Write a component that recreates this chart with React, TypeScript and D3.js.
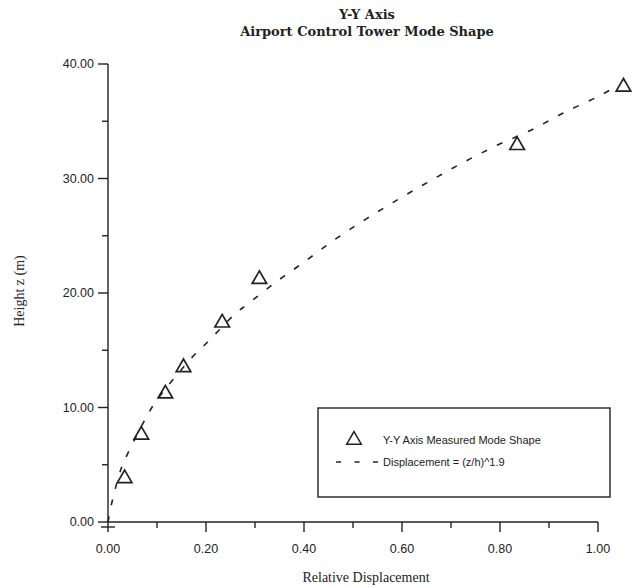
import React from 'react';
import * as d3 from 'd3';

// measured mode shape
const measuredX = [0.034, 0.068, 0.117, 0.154, 0.233, 0.309, 0.835, 1.052];
const measuredZ = [3.8, 7.6, 11.2, 13.5, 17.4, 21.2, 32.9, 38.0];

// dashed fit curve, points traced along the dashes
const fitX = [0, 0.009, 0.028, 0.044, 0.08, 0.099, 0.172, 0.203, 0.26, 0.284, 0.341, 0.4, 0.464, 0.528, 0.593, 0.658, 0.725, 0.794, 0.862, 0.933, 1.002, 1.036];
const fitZ = [0, 1.9, 4.8, 6.3, 9.3, 10.6, 14.4, 15.7, 18.2, 19.0, 20.9, 22.7, 24.7, 26.5, 28.2, 29.8, 31.4, 32.9, 34.2, 35.8, 37.2, 38.0];

const xMajor = [0, 0.2, 0.4, 0.6, 0.8, 1.0];
const xMinor = [0.1, 0.3, 0.5, 0.7, 0.9];
const yMajor = [0, 10, 20, 30, 40];
const yMinor = [5, 15, 25, 35];

const titleLines = ['Y-Y Axis', 'Airport Control Tower Mode Shape'];
const xTitle = 'Relative Displacement';
const yTitle = 'Height z (m)';
const legendItems = ['Y-Y Axis Measured Mode Shape', 'Displacement = (z/h)^1.9'];

const W = 644;
const H = 587;
const INK = '#222';
const SANS = '"Liberation Sans", Arial, sans-serif';
const SERIF_B = '"DejaVu Serif", serif';
const SERIF = '"Liberation Serif", "Times New Roman", serif';

export default function App() {
  const x = d3.scaleLinear().domain([0, 1]).range([108, 598]);
  const y = d3.scaleLinear().domain([0, 40]).range([522, 64]);
  const fmt = d3.format('.2f');

  const line = d3.line<number>()
    .x((_, i) => x(fitX[i]))
    .y((_, i) => y(fitZ[i]))
    .curve(d3.curveCatmullRom);

  const tri = d3.symbol().type(d3.symbolTriangle).size(92)();

  const majorLen = 10;
  const minorLen = 6;
  const x0 = x(0);
  const y0 = y(0);
  const cx = (x(0) + x(1)) / 2;

  // legend box
  const lg = { x: 318, y: 408, w: 292, h: 89 };

  return (
    <svg width={W} height={H} style={{ position: 'absolute', left: 0, top: 0, background: '#fff' }}>
      {/* titles */}
      {titleLines.map((t, i) => (
        <text key={t} x={cx + 14} y={19 + i * 17} textAnchor="middle"
          fontFamily={SERIF_B} fontWeight="bold" fontSize={13} fill={INK}>{t}</text>
      ))}

      {/* axes */}
      <g stroke={INK} strokeWidth={1.4} fill="none">
        <line x1={x0} y1={y(40)} x2={x0} y2={y0} />
        <line x1={x0} y1={y0} x2={x(1)} y2={y0} />
        {yMajor.map(v => <line key={'ym' + v} x1={x0 - majorLen} x2={x0} y1={y(v)} y2={y(v)} />)}
        {yMinor.map(v => <line key={'yn' + v} x1={x0 - minorLen} x2={x0} y1={y(v)} y2={y(v)} />)}
        {xMajor.map(v => <line key={'xm' + v} x1={x(v)} x2={x(v)} y1={y0} y2={y0 + majorLen} />)}
        {xMinor.map(v => <line key={'xn' + v} x1={x(v)} x2={x(v)} y1={y0} y2={y0 + minorLen} />)}
        <line x1={x0 - 7} x2={x0 + 7} y1={y0 + 5} y2={y0 + 5} />
      </g>

      {/* tick labels */}
      {yMajor.map(v => (
        <text key={'yl' + v} x={x0 - 14} y={y(v)} dy="0.35em" textAnchor="end"
          fontFamily={SANS} fontSize={12.5} fill={INK}>{fmt(v)}</text>
      ))}
      {xMajor.map(v => (
        <text key={'xl' + v} x={x(v)} y={y0 + 31} textAnchor="middle"
          fontFamily={SANS} fontSize={12.5} fill={INK}>{fmt(v)}</text>
      ))}

      {/* axis titles */}
      <text x={366} y={582} textAnchor="middle" fontFamily={SERIF} fontSize={14} fill={INK}>{xTitle}</text>
      <text transform={`translate(24,${291}) rotate(-90)`} textAnchor="middle"
        fontFamily={SERIF} fontSize={14} fill={INK}>{yTitle}</text>

      {/* fit curve */}
      <path d={line(fitX) || ''} fill="none" stroke={INK} strokeWidth={1.6} strokeDasharray="6,11" />

      {/* measured points */}
      {measuredX.map((v, i) => (
        <path key={'p' + i} d={tri || ''} transform={`translate(${x(v)},${y(measuredZ[i])})`}
          fill="none" stroke={INK} strokeWidth={1.7} />
      ))}

      {/* legend */}
      <rect x={lg.x} y={lg.y} width={lg.w} height={lg.h} fill="#fff" stroke={INK} strokeWidth={1.4} />
      <path d={tri || ''} transform={`translate(${lg.x + 36},${lg.y + 32})`} fill="none" stroke={INK} strokeWidth={1.5} />
      <line x1={lg.x + 18} x2={lg.x + 60} y1={lg.y + 54} y2={lg.y + 54} stroke={INK} strokeWidth={1.6} strokeDasharray="5,13.5" />
      {legendItems.map((t, i) => (
        <text key={t} x={lg.x + 65} y={lg.y + 32 + i * 22} dy="0.35em"
          fontFamily={SANS} fontSize={11} fill={INK}>{t}</text>
      ))}
    </svg>
  );
}
